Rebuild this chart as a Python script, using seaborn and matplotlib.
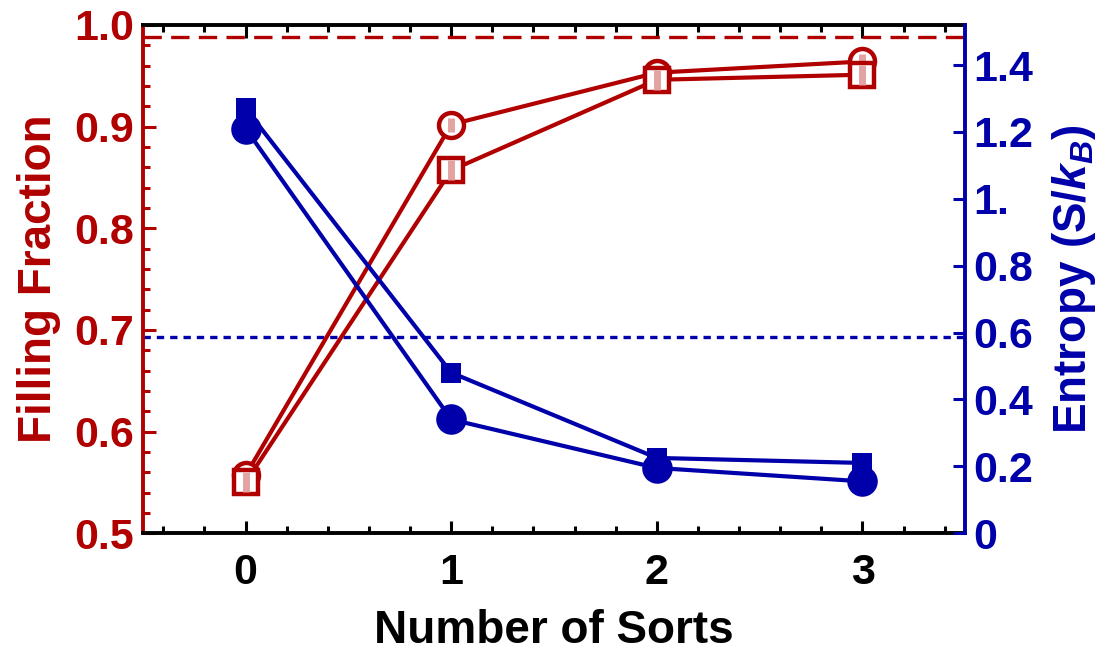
import numpy as np
import pandas as pd
import seaborn as sns
import matplotlib.pyplot as plt
from matplotlib.ticker import MultipleLocator, FixedLocator, FixedFormatter

# data
sorts = [0, 1, 2, 3]
fill_circle = [0.557, 0.902, 0.953, 0.964]
fill_square = [0.550, 0.857, 0.946, 0.951]
entropy_circle = [1.21, 0.34, 0.195, 0.155]
entropy_square = [1.27, 0.48, 0.225, 0.21]
fill_ref = 0.988
entropy_ref = 0.693  # drawn on the filling-fraction axis

left_ticks = [0.5, 0.6, 0.7, 0.8, 0.9, 1.0]
left_labels = ['0.5', '0.6', '0.7', '0.8', '0.9', '1.0']
right_ticks = [0, 0.2, 0.4, 0.6, 0.8, 1.0, 1.2, 1.4]
right_labels = ['0', '0.2', '0.4', '0.6', '0.8', '1.', '1.2', '1.4']

RED = '#B00000'
BLUE = '#0000AA'
PINK = '#E3A3A3'

sns.set_style('ticks')
plt.rcParams['font.family'] = ['Liberation Sans', 'DejaVu Sans']
plt.rcParams['font.weight'] = 'bold'
plt.rcParams['mathtext.fontset'] = 'custom'
plt.rcParams['mathtext.rm'] = 'Liberation Sans:bold'
plt.rcParams['mathtext.it'] = 'Liberation Sans:italic:bold'
plt.rcParams['mathtext.bf'] = 'Liberation Sans:bold'

fig = plt.figure(figsize=(11.07, 6.55), dpi=100)
ax = fig.add_axes([0.129, 0.186, 0.743, 0.776])
ax2 = ax.twinx()

# reference lines
ax.axhline(fill_ref, color=RED, lw=2.4, dashes=(5.5, 2.8), zorder=1)
ax.axhline(entropy_ref, color=BLUE, lw=2.4, dashes=(2.2, 1.8), zorder=1)

# filling fraction (open red markers with a pale bar inside)
sns.lineplot(x=sorts, y=fill_circle, ax=ax, color=RED, lw=3, marker='o', ms=18,
             mfc='white', mec=RED, mew=3.2, zorder=3)
sns.lineplot(x=sorts, y=fill_circle, ax=ax, color=PINK, linestyle='', marker='|', ms=10,
             mec=PINK, mew=5, zorder=3)
sns.lineplot(x=sorts, y=fill_square, ax=ax, color=RED, lw=3, marker='s', ms=17,
             mfc='white', mec=RED, mew=3.2, zorder=4)
sns.lineplot(x=sorts, y=fill_square, ax=ax, color=PINK, linestyle='', marker='|', ms=14,
             mec=PINK, mew=5, zorder=4)

# entropy (filled blue markers)
sns.lineplot(x=sorts, y=entropy_square, ax=ax2, color=BLUE, lw=3, marker='s', ms=15,
             mfc=BLUE, mec=BLUE, mew=0, zorder=3)
sns.lineplot(x=sorts, y=entropy_circle, ax=ax2, color=BLUE, lw=3, marker='o', ms=22,
             mfc=BLUE, mec=BLUE, mew=0, zorder=4)

ax.set_xlim(-0.5, 3.5)
ax.set_ylim(0.5, 1.0)
ax2.set_ylim(0, 1.52)

ax.set_xticks(sorts)
ax.set_xticklabels([str(s) for s in sorts])
ax.xaxis.set_minor_locator(MultipleLocator(0.2))
ax.yaxis.set_major_locator(FixedLocator(left_ticks))
ax.yaxis.set_major_formatter(FixedFormatter(left_labels))
ax.yaxis.set_minor_locator(MultipleLocator(0.02))

ax.tick_params(axis='x', which='both', direction='in', top=True, bottom=True, colors='black')
ax.tick_params(axis='x', which='major', length=9, width=2.2, labelsize=31, pad=14)
ax.tick_params(axis='x', which='minor', length=5, width=2.2)
ax.tick_params(axis='y', which='both', direction='in', left=True, right=False,
               color=RED, labelcolor=RED)
ax.tick_params(axis='y', which='major', length=9, width=2.2, labelsize=31, pad=6)
ax.tick_params(axis='y', which='minor', length=5, width=2.2)

ax2.yaxis.set_major_locator(FixedLocator(right_ticks))
ax2.yaxis.set_major_formatter(FixedFormatter(right_labels))
ax2.yaxis.set_minor_locator(plt.NullLocator())
ax2.tick_params(axis='y', direction='in', length=9, width=2.2, color=BLUE,
                labelcolor=BLUE, labelsize=31, pad=6)

for side in ['top', 'bottom']:
    ax.spines[side].set_color('black')
    ax.spines[side].set_linewidth(2.8)
ax.spines['left'].set_color(RED)
ax.spines['left'].set_linewidth(2.8)
ax.spines['right'].set_visible(False)
for side in ['top', 'bottom', 'left']:
    ax2.spines[side].set_visible(False)
ax2.spines['right'].set_color(BLUE)
ax2.spines['right'].set_linewidth(2.8)

ax.set_xlabel('Number of Sorts', fontsize=33, fontweight='bold', color='black', labelpad=12)
ax.set_ylabel('Filling Fraction', fontsize=33, fontweight='bold', color=RED, labelpad=10)
ax2.set_ylabel(r'Entropy (S/$k_B$)', fontsize=33, fontweight='bold', color=BLUE, labelpad=12)

fig.savefig('out.png', dpi=100)
